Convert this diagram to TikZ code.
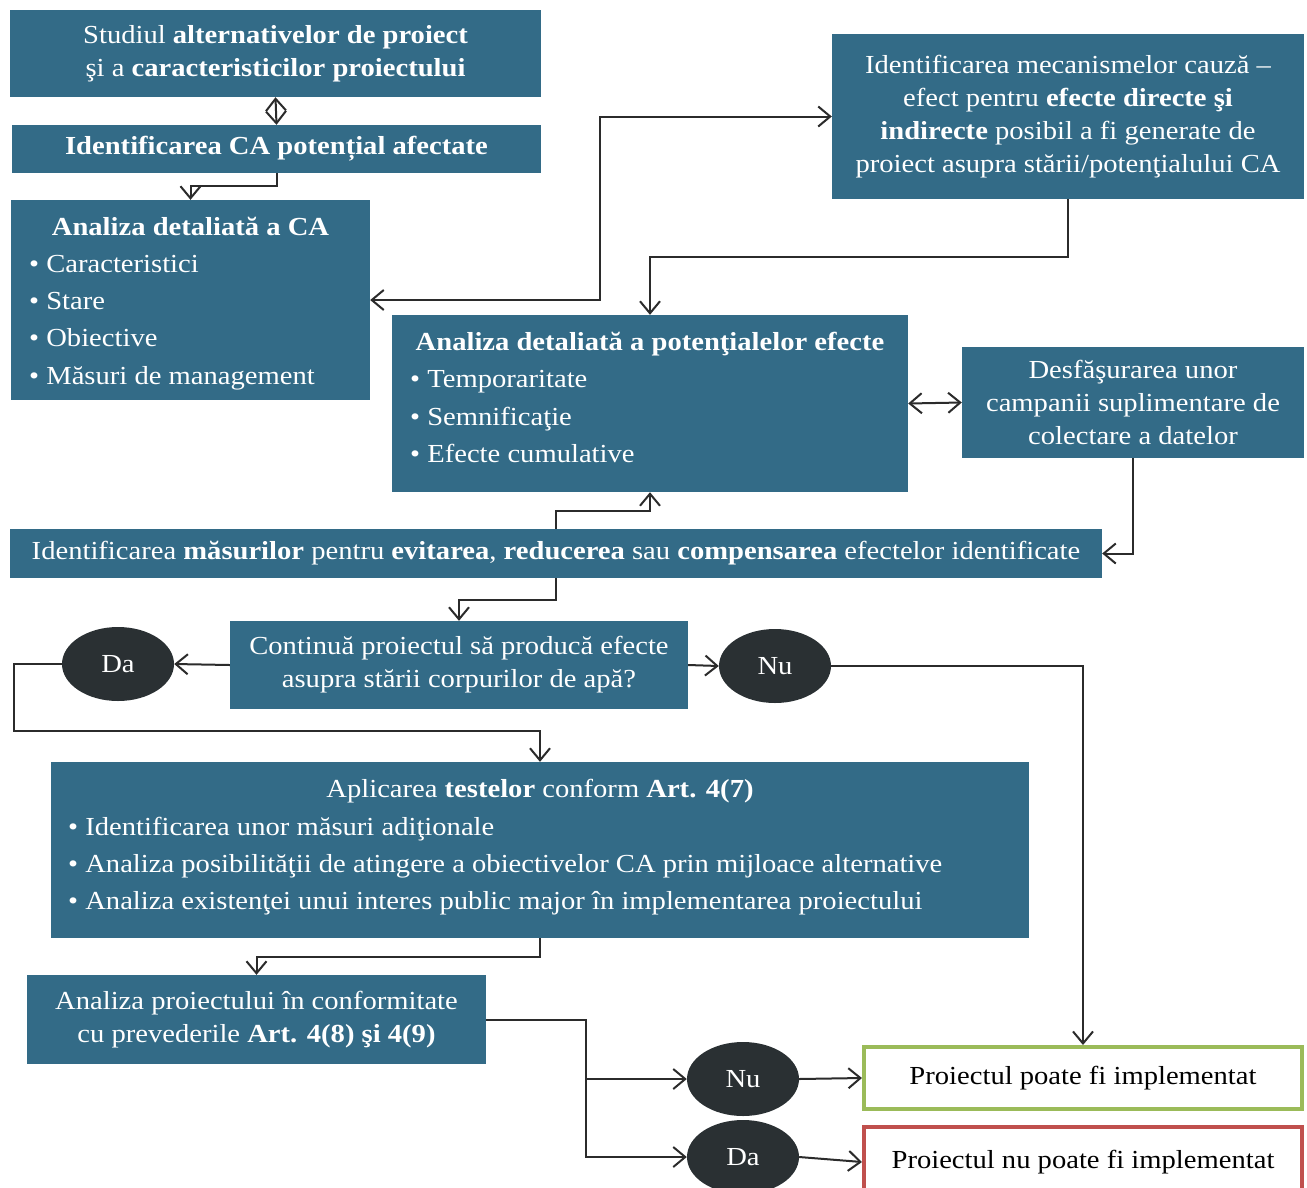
\documentclass[tikz,border=0pt]{standalone}
\usepackage{fontspec}
\setmainfont{Liberation Serif}[FakeStretch=1.1]
\usetikzlibrary{arrows.meta,shapes.geometric}
\definecolor{boxblue}{HTML}{336B87}
\definecolor{darkell}{HTML}{2A3033}
\definecolor{linec}{HTML}{2B2B2B}
\definecolor{okgreen}{HTML}{9BBB59}
\definecolor{nored}{HTML}{C0504D}
\newcommand\fsz{\fontsize{26}{33}\selectfont}
\begin{document}
\begin{tikzpicture}[x=1pt,y=-1pt,
  box/.style={fill=boxblue, text=white, inner sep=0pt, align=center, font=\fsz},
  txt/.style={text=white, inner sep=0pt, font=\fsz, anchor=base west},
  ttl/.style={text=white, inner sep=0pt, font=\fsz\bfseries, anchor=base},
  ell/.style={ellipse, fill=darkell, text=white, inner sep=0pt, minimum width=112pt, minimum height=74pt, font=\fsz},
  res/.style={fill=white, text=black, line width=4pt, inner sep=0pt, font=\fsz, minimum width=438pt, minimum height=62pt},
  conn/.style={draw=linec, line width=2pt, -{Straight Barb[length=12pt,width=20pt,line width=2pt]}},
  conn2/.style={draw=linec, line width=2pt, {Straight Barb[length=12pt,width=20pt,line width=2pt]}-{Straight Barb[length=12pt,width=20pt,line width=2pt]}}
]
\clip (0,0) rectangle (1307,1187);
\fill[white] (0,0) rectangle (1307,1187);

% boxes
\node[box, minimum width=531pt, minimum height=87pt] (b1) at (275.5,53.5)
  {Studiul \textbf{alternativelor de proiect}\\ şi a \textbf{caracteristicilor proiectului}};
\node[box, minimum width=529pt, minimum height=48pt] (b2) at (276.5,149)
  {\textbf{Identificarea CA potențial afectate}};

\node[box, minimum width=359pt, minimum height=200pt] (b3) at (190.5,300) {};
\node[ttl] (b3t) at (190.5,235) {Analiza detaliată a CA};
\node[txt] (b3a) at (29,272) {• Caracteristici};
\node[txt] (b3b) at (29,309) {• Stare};
\node[txt] (b3c) at (29,346) {• Obiective};
\node[txt] (b3d) at (29,384) {• Măsuri de management};

\node[box, minimum width=472pt, minimum height=165pt] (b4) at (1068,116.5)
  {Identificarea mecanismelor cauză –\\ efect pentru \textbf{efecte directe şi}\\ \textbf{indirecte} posibil a fi generate de\\ proiect asupra stării/potenţialului CA};

\node[box, minimum width=516pt, minimum height=177pt] (b5) at (650,403.5) {};
\node[ttl] (b5t) at (650,350) {Analiza detaliată a potenţialelor efecte};
\node[txt] (b5a) at (410,387) {• Temporaritate};
\node[txt] (b5b) at (410,425) {• Semnificaţie};
\node[txt] (b5c) at (410,462) {• Efecte cumulative};

\node[box, minimum width=342pt, minimum height=111pt] (b6) at (1133,402.5)
  {Desfăşurarea unor\\ campanii suplimentare de\\ colectare a datelor};

\node[box, minimum width=1092pt, minimum height=49pt] (b7) at (556,553.5)
  {Identificarea \textbf{măsurilor} pentru \textbf{evitarea}, \textbf{reducerea} sau \textbf{compensarea} efectelor identificate};

\node[box, minimum width=458pt, minimum height=88pt] (b8) at (459,665)
  {Continuă proiectul să producă efecte\\ asupra stării corpurilor de apă?};
\node[ell] (da1) at (118,664) {Da};
\node[ell] (nu1) at (775,666) {Nu};

\node[box, minimum width=978pt, minimum height=176pt] (b11) at (540,850) {};
\node[text=white, inner sep=0pt, font=\fsz, anchor=base] (b11t) at (540,797) {Aplicarea \textbf{testelor} conform \textbf{Art. 4(7)}};
\node[txt] (b11a) at (68,835) {• Identificarea unor măsuri adiţionale};
\node[txt] (b11b) at (68,872) {• Analiza posibilităţii de atingere a obiectivelor CA prin mijloace alternative};
\node[txt] (b11c) at (68,909) {• Analiza existenţei unui interes public major în implementarea proiectului};

\node[box, minimum width=459pt, minimum height=89pt] (b12) at (256.5,1019.5)
  {Analiza proiectului în conformitate\\ cu prevederile \textbf{Art. 4(8) şi 4(9)}};

\node[ell] (nu2) at (743,1079) {Nu};
\node[ell] (da2) at (743,1157) {Da};

\node[res, draw=okgreen] (gr) at (1083,1078) {Proiectul poate fi implementat};
\node[res, draw=nored, minimum height=70pt] (rd) at (1083,1162) {Proiectul nu poate fi implementat};

% connectors
\draw[conn2] (b1.south) -- (b2.north);
\draw[conn] (b2.south) -- ++(0,13) -| (b3.north);
\draw[conn2] (b3.east) -- ++(230,0) |- (b4.west);
\draw[conn] (b4.south) -- ++(0,58) -| (b5.north);
\draw[conn2] (b5.east) -- (b6.west);
\draw[conn] (b6.south) |- (b7.east);
\draw[conn] (b7.north) -- ++(0,-18) -| (b5.south);
\draw[conn] (b7.south) -- ++(0,22) -| (b8.north);
\draw[conn] (b8.west) -- (da1.east);
\draw[conn] (b8.east) -- (nu1.west);
\coordinate (c1) at (14,731);
\draw[conn] (da1.west) -| (c1) -| (b11.north);
\draw[conn] (nu1.east) -| (gr.north);
\draw[conn] (b11.south) -- ++(0,19) -| (b12.north);
\coordinate (c2) at (586,1019.5);
\draw[conn] (b12.east) -- (c2) |- (nu2.west);
\draw[conn] (c2) |- (da2.west);
\draw[conn] (nu2.east) -- (gr.west);
\draw[conn] (da2.east) -- (rd.west);
\end{tikzpicture}
\end{document}
